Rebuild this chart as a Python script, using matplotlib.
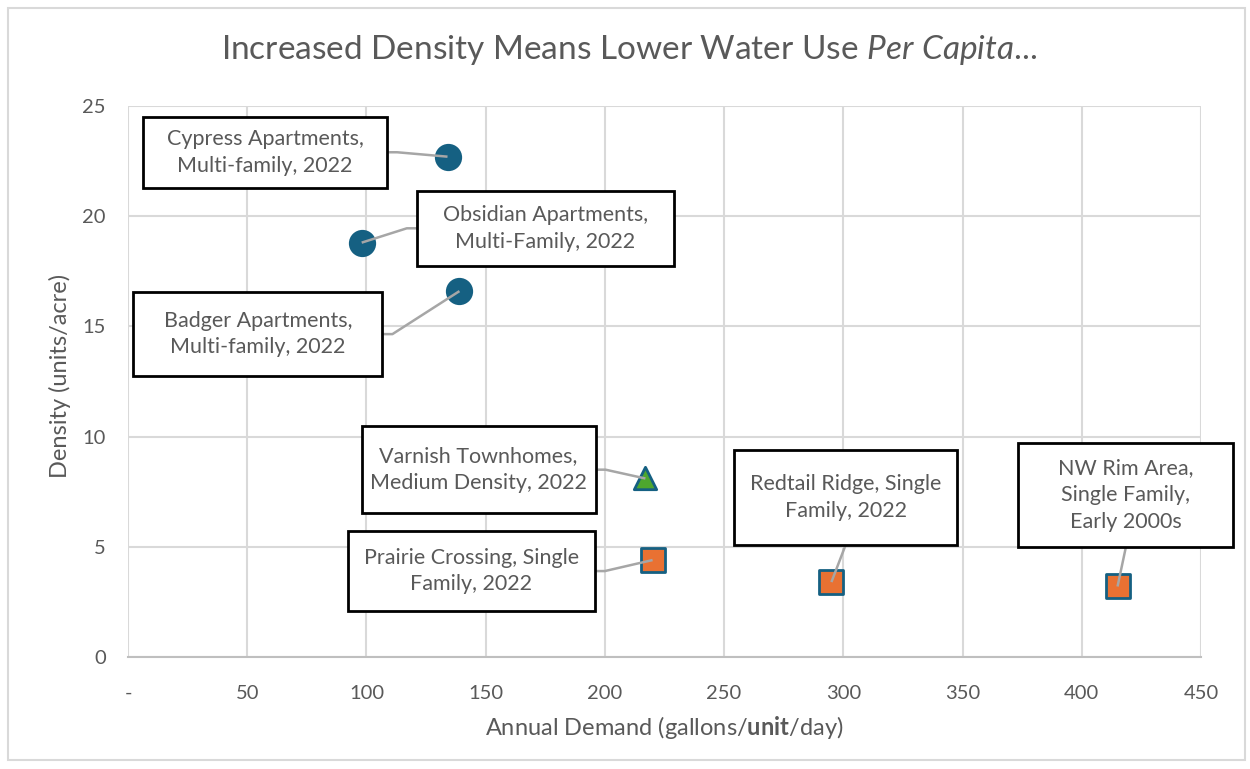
import matplotlib.pyplot as plt
from matplotlib.patches import Rectangle

# data
names = ["Cypress Apartments,\nMulti-family, 2022",
         "Obsidian Apartments,\nMulti-Family, 2022",
         "Badger Apartments,\nMulti-family, 2022",
         "Varnish Townhomes,\nMedium Density, 2022",
         "Prairie Crossing, Single\nFamily, 2022",
         "Redtail Ridge, Single\nFamily, 2022",
         "NW Rim Area,\nSingle Family,\nEarly 2000s"]
demand = [134, 98, 139, 217, 220, 295, 415]
density = [22.7, 18.8, 16.6, 8.1, 4.4, 3.4, 3.2]
kind = ["multi", "multi", "multi", "medium", "single", "single", "single"]

# label box layout: centre (data coords), size (pixels), side the leader leaves from
label_x = [57.5, 175, 54.5, 147, 144, 301, 418.5]
label_y = [22.9, 19.45, 14.65, 8.5, 3.9, 7.25, 7.35]
box_w = [244, 257, 249, 234, 247, 223, 215]
box_h = [71, 75, 84, 87, 80, 95, 104]
leader_side = ["r", "l", "r", "r", "r", "b", "b"]

xticks = [0, 50, 100, 150, 200, 250, 300, 350, 400, 450]
xticklabels = ["-"] + [str(v) for v in xticks[1:]]
yticks = [0, 5, 10, 15, 20, 25]

blue = "#156082"
orange = "#E97132"
green = "#4EA72E"
grey_txt = "#595959"

plt.rcParams['font.family'] = ['Lato', 'DejaVu Sans']
plt.rcParams['mathtext.fontset'] = 'custom'
plt.rcParams['mathtext.rm'] = 'Lato'
plt.rcParams['mathtext.it'] = 'Lato:italic'
plt.rcParams['mathtext.bf'] = 'Lato:bold'

fig = plt.figure(figsize=(12.5, 7.69), dpi=100)
ax = fig.add_axes([0.1024, 0.1456, 0.8584, 0.7166])
ax.set_xlim(0, 450)
ax.set_ylim(0, 25)

# outer chart border
fig.patches.append(Rectangle((8 / 1250, 9 / 769), 1237 / 1250, 752 / 769,
                             transform=fig.transFigure, fill=False,
                             edgecolor="#D9D9D9", lw=1.5))

style = {
    "multi": dict(marker="o", color=blue, s=310),
    "medium": dict(marker="^", color=green, s=260),
    "single": dict(marker="s", color=orange, s=290),
}
for x, y, k in zip(demand, density, kind):
    st = style[k]
    ax.scatter([x], [y], marker=st["marker"], c=st["color"], edgecolors=blue,
               s=st["s"], linewidths=2, zorder=3)

# pixel -> data scale
ax_px_w = 0.8584 * 1250
ax_px_h = 0.7166 * 769
sx = 450 / ax_px_w
sy = 25 / ax_px_h
stub = 10  # short horizontal piece of the leader, pixels

for name, x, y, lx, ly, w, h, side in zip(names, demand, density, label_x, label_y,
                                           box_w, box_h, leader_side):
    hw, hh = w / 2 * sx, h / 2 * sy
    ax.add_patch(Rectangle((lx - hw, ly - hh), 2 * hw, 2 * hh, fc="white",
                           ec="black", lw=2, zorder=5, clip_on=False))
    ax.text(lx, ly, name, ha="center", va="center", fontsize=15.5, color=grey_txt,
            linespacing=1.42, zorder=6, clip_on=False)
    if side == "r":
        ex, ey = lx + hw, ly
        lxs, lys = [x, ex + stub * sx, ex], [y, ey, ey]
    elif side == "l":
        ex, ey = lx - hw, ly
        lxs, lys = [x, ex - stub * sx, ex], [y, ey, ey]
    else:
        ex, ey = lx, ly - hh
        lxs, lys = [x, ex], [y, ey]
    ax.plot(lxs, lys, color="#A6A6A6", lw=1.8, zorder=4, solid_capstyle="butt")

ax.set_xticks(xticks)
ax.set_xticklabels(xticklabels)
ax.set_yticks(yticks)
ax.grid(True, color="#D9D9D9", lw=1.5)
ax.set_axisbelow(True)
for sp in ["top", "right", "left"]:
    ax.spines[sp].set_visible(False)
ax.spines["bottom"].set_color("#BFBFBF")
ax.spines["bottom"].set_linewidth(1.5)
ax.tick_params(axis="x", length=0, labelsize=14.5, labelcolor=grey_txt, pad=20)
ax.tick_params(axis="y", length=0, labelsize=14.5, labelcolor=grey_txt, pad=16)

ax.set_xlabel(r"Annual Demand (gallons/$\mathbf{unit}$/day)", fontsize=17,
              color=grey_txt, va="center")
ax.xaxis.set_label_coords(0.5, -0.127)
ax.set_ylabel("Density (units/acre)", fontsize=17, color=grey_txt, va="center")
ax.yaxis.set_label_coords(-0.063, 0.51)

fig.text(0.503, 0.935, r"Increased Density Means Lower Water Use $\mathit{Per\ Capita}$...",
         ha="center", va="center", fontsize=24, color=grey_txt)

fig.savefig("out.png", dpi=100)
